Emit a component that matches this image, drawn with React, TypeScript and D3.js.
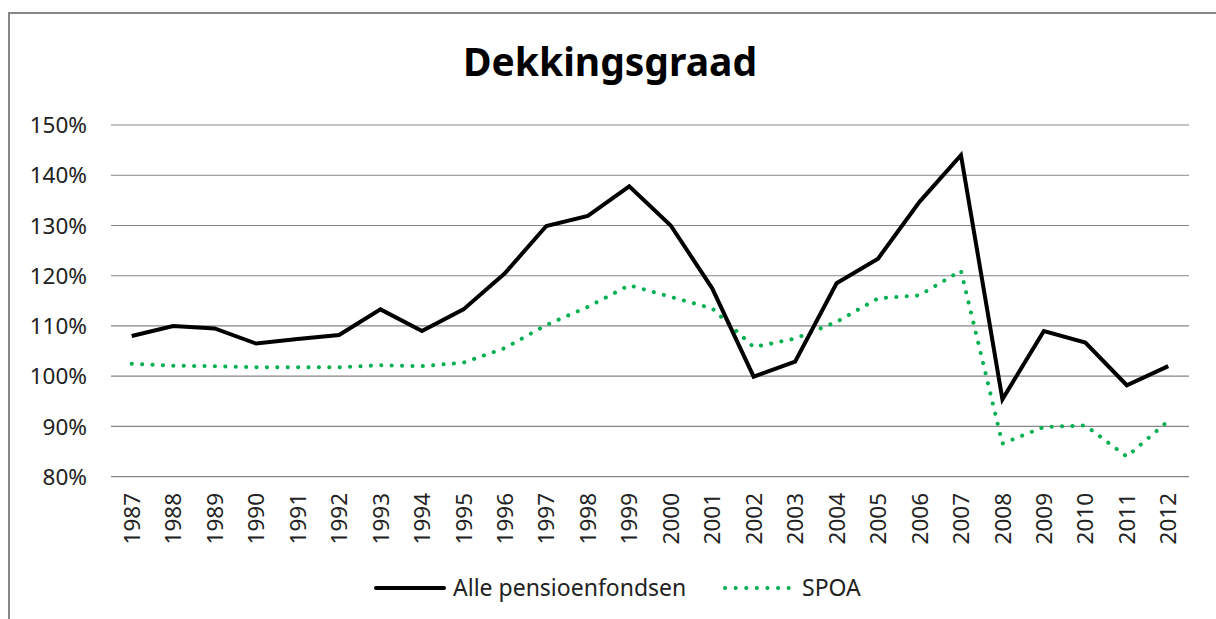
import React from "react";
import * as d3 from "d3";

const years = [
  "1987","1988","1989","1990","1991","1992","1993","1994","1995","1996","1997","1998","1999",
  "2000","2001","2002","2003","2004","2005","2006","2007","2008","2009","2010","2011","2012",
];
const allePensioenfondsen = [
  108, 110, 109.5, 106.5, 107.4, 108.2, 113.3, 109, 113.3, 120.5, 129.9, 131.9, 137.8,
  130, 117.5, 99.9, 102.9, 118.5, 123.4, 134.7, 144, 95.4, 109, 106.7, 98.2, 102,
];
const spoa = [
  102.5, 102.1, 102, 101.8, 101.8, 101.8, 102.2, 102, 102.7, 105.6, 110.2, 113.8, 118.1,
  115.8, 113.5, 105.8, 107.5, 110.8, 115.5, 116.1, 121, 86.6, 89.9, 90.2, 84, 91.1,
];
const yTicks = [80, 90, 100, 110, 120, 130, 140, 150];
const seriesNames = ["Alle pensioenfondsen", "SPOA"];
const title = "Dekkingsgraad";

const FONT = "'Noto Sans', 'Open Sans', sans-serif";

export default function App() {
  const W = 1216, H = 619;
  const x = d3.scaleBand<string>().domain(years).range([111, 1189]);
  const y = d3.scaleLinear().domain([80, 150]).range([476.7, 125]);
  const cx = (yr: string) => (x(yr) as number) + x.bandwidth() / 2;
  const line = d3
    .line<number>()
    .x((_, i) => cx(years[i]))
    .y((d) => y(d));

  return (
    <svg
      width={W}
      height={H}
      style={{ position: "absolute", left: 0, top: 0, display: "block", background: "#fff" }}
      fontFamily={FONT}
    >
      <rect x={9} y={13} width={1400} height={1000} fill="#fff" stroke="#878787" strokeWidth={2} />
      <text x={610} y={76} textAnchor="middle" fontSize={39} fontWeight="bold" fill="#000">
        {title}
      </text>
      {yTicks.map((t) => (
        <g key={t}>
          <line x1={111} x2={1189} y1={y(t)} y2={y(t)} stroke="#868686" strokeWidth={1.2} />
          <text x={87} y={y(t)} dy="0.36em" textAnchor="end" fontSize={22.5} fill="#222">
            {t}%
          </text>
        </g>
      ))}
      {years.map((yr) => (
        <text
          key={yr}
          transform={`translate(${cx(yr)},493) rotate(-90)`}
          dy="0.36em"
          textAnchor="end"
          fontSize={22.5}
          fill="#222"
        >
          {yr}
        </text>
      ))}
      <path
        d={line(spoa) || ""}
        fill="none"
        stroke="#00B050"
        strokeWidth={4}
        strokeLinecap="round"
        strokeDasharray="0.1 10.3"
      />
      <path
        d={line(allePensioenfondsen) || ""}
        fill="none"
        stroke="#000"
        strokeWidth={4}
        strokeLinejoin="miter"
      />
      <g>
        <line x1={376} x2={444} y1={588} y2={588} stroke="#000" strokeWidth={4} strokeLinecap="round" />
        <text x={453} y={596} fontSize={23} fill="#222">
          {seriesNames[0]}
        </text>
        <line
          x1={725}
          x2={790}
          y1={588}
          y2={588}
          stroke="#00B050"
          strokeWidth={4}
          strokeLinecap="round"
          strokeDasharray="0.1 10.5"
        />
        <text x={802} y={596} fontSize={23} fill="#222">
          {seriesNames[1]}
        </text>
      </g>
    </svg>
  );
}
